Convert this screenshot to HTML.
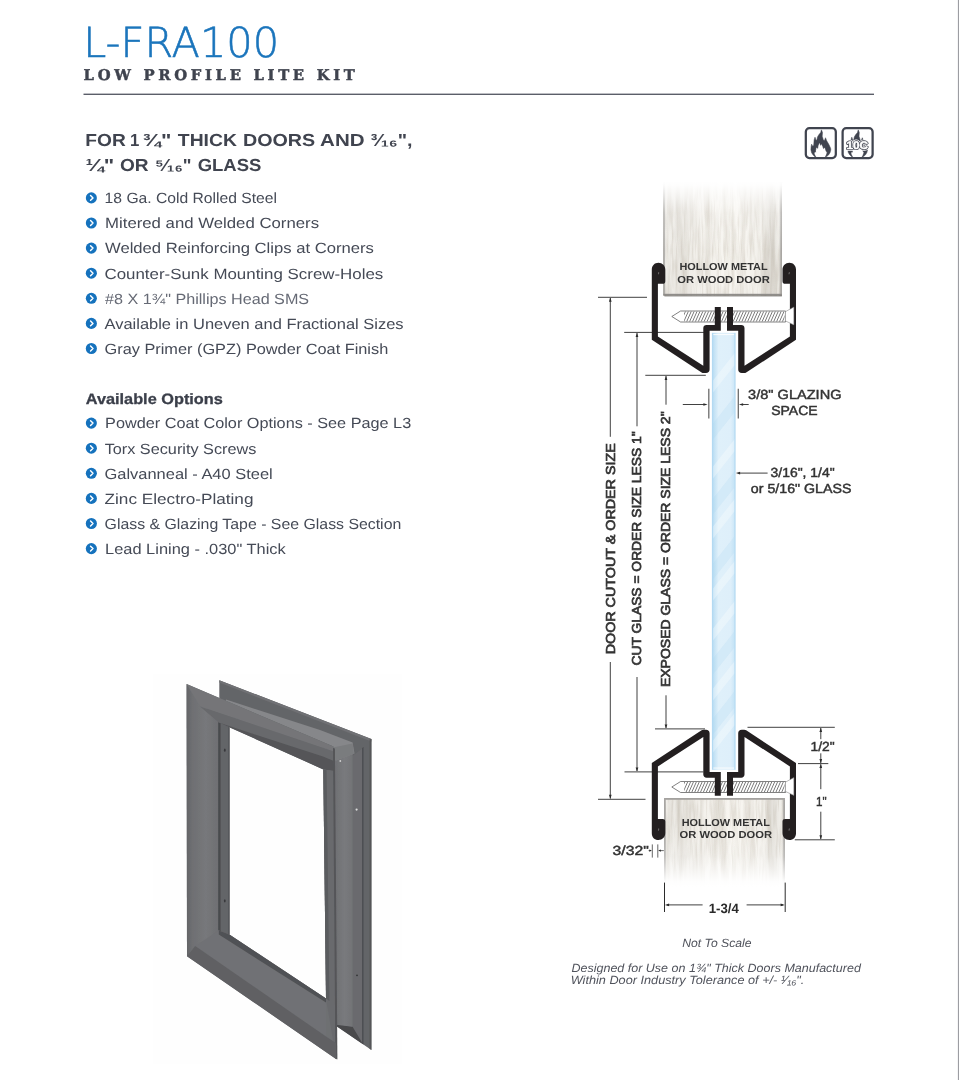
<!DOCTYPE html>
<html lang="en">
<head>
<meta charset="utf-8">
<title>L-FRA100 Low Profile Lite Kit</title>
<style>
html,body{margin:0;padding:0;background:#fff;}
body{width:959px;height:1080px;overflow:hidden;position:relative;font-family:'Liberation Sans', 'DejaVu Sans', sans-serif;}
svg{position:absolute;left:0;top:0;display:block;}
text{white-space:pre;}
</style>
</head>
<body>
<svg width="959" height="1080" viewBox="0 0 959 1080" text-rendering="geometricPrecision">

<defs>
<filter id="wood" x="0" y="0" width="100%" height="100%" color-interpolation-filters="sRGB">
  <feTurbulence type="fractalNoise" baseFrequency="0.17 0.009" numOctaves="2" seed="11" result="n"/>
  <feColorMatrix in="n" type="matrix" values="0 0 0 0 0  0 0 0 0 0  0 0 0 0 0  1.2 0 0 0 -0.5" result="a"/>
  <feFlood flood-color="#c2bbae"/>
  <feComposite in2="a" operator="in" result="streak"/>
  <feTurbulence type="fractalNoise" baseFrequency="0.5 0.035" numOctaves="2" seed="4" result="n2"/>
  <feColorMatrix in="n2" type="matrix" values="0 0 0 0 0  0 0 0 0 0  0 0 0 0 0  0 1.1 0 0 -0.48" result="a2"/>
  <feFlood flood-color="#cbc4b8"/>
  <feComposite in2="a2" operator="in" result="grain"/>
  <feFlood flood-color="#f8f6f1" result="base"/>
  <feMerge><feMergeNode in="base"/><feMergeNode in="streak"/><feMergeNode in="grain"/></feMerge>
</filter>
<linearGradient id="fadeTop" x1="0" y1="0" x2="0" y2="1">
  <stop offset="0" stop-color="#fff" stop-opacity="1"/>
  <stop offset="0.06" stop-color="#fff" stop-opacity="0.95"/>
  <stop offset="0.45" stop-color="#fff" stop-opacity="0.25"/>
  <stop offset="1" stop-color="#fff" stop-opacity="0"/>
</linearGradient>
<linearGradient id="fadeBot" x1="0" y1="1" x2="0" y2="0">
  <stop offset="0" stop-color="#fff" stop-opacity="1"/>
  <stop offset="0.1" stop-color="#fff" stop-opacity="0.95"/>
  <stop offset="0.55" stop-color="#fff" stop-opacity="0.25"/>
  <stop offset="1" stop-color="#fff" stop-opacity="0"/>
</linearGradient>
<linearGradient id="glassG" x1="0" y1="0" x2="1" y2="0">
  <stop offset="0" stop-color="#aed7f1"/>
  <stop offset="0.1" stop-color="#c3e2f5"/>
  <stop offset="0.28" stop-color="#dff0fa"/>
  <stop offset="0.8" stop-color="#deeffa"/>
  <stop offset="0.93" stop-color="#cfe8f8"/>
  <stop offset="1" stop-color="#a3d1ee"/>
</linearGradient>
<pattern id="hatch" width="2.9" height="12" patternUnits="userSpaceOnUse" patternTransform="skewX(-24)">
  <rect x="0" y="0" width="0.9" height="12" fill="#6c6c6c"/>
</pattern>
<linearGradient id="doorShade" x1="0" y1="0" x2="1" y2="0">
  <stop offset="0" stop-color="#8d8b88" stop-opacity="0.85"/>
  <stop offset="0.02" stop-color="#8d8b88" stop-opacity="0.05"/>
  <stop offset="0.12" stop-color="#9b958c" stop-opacity="0.16"/>
  <stop offset="0.3" stop-color="#9b958c" stop-opacity="0.06"/>
  <stop offset="0.6" stop-color="#9b958c" stop-opacity="0"/>
  <stop offset="0.82" stop-color="#9b958c" stop-opacity="0.06"/>
  <stop offset="0.9" stop-color="#9b958c" stop-opacity="0.22"/>
  <stop offset="0.975" stop-color="#8d8b88" stop-opacity="0.05"/>
  <stop offset="1" stop-color="#8d8b88" stop-opacity="0.85"/>
</linearGradient>
<filter id="soft" x="-5%" y="-5%" width="110%" height="110%"><feGaussianBlur stdDeviation="0.45"/></filter>
</defs>

<rect x="0" y="0" width="959" height="1080" fill="#ffffff"/>
<rect x="957.9" y="0" width="1.1" height="1080" fill="#9c9da2"/>
<g opacity="0.999">
<g id="left-text">
<text x="83.21" y="56.80" textLength="195.84" lengthAdjust="spacingAndGlyphs" font-family="'DejaVu Sans Light', 'DejaVu Sans', 'Liberation Sans', sans-serif" font-size="41.4" font-weight="200" font-style="normal" fill="#1b75bc" stroke="#1b75bc" stroke-width="0.55">L-FRA100</text>
<text x="83.60" y="79.60" textLength="271.20" lengthAdjust="spacing" font-family="'DejaVu Serif', 'Liberation Serif', serif" font-size="14.8" font-weight="bold" font-style="normal" fill="#3f434e" stroke="#3f434e" stroke-width="0.45">LOW PROFILE LITE KIT</text>
<rect x="83.5" y="93.6" width="790.5" height="1.4" fill="#5b5e69"/>
<text y="145.80" font-family="'Liberation Sans', 'DejaVu Sans', sans-serif" font-size="17.4" font-weight="bold" fill="#40444f"><tspan x="85.29" textLength="40.51" lengthAdjust="spacingAndGlyphs">FOR</tspan> <tspan x="129.94" textLength="9.32" lengthAdjust="spacingAndGlyphs">1</tspan> <tspan x="142.59" textLength="28.74" lengthAdjust="spacingAndGlyphs">¾&quot;</tspan> <tspan x="177.89" textLength="58.98" lengthAdjust="spacingAndGlyphs">THICK</tspan> <tspan x="242.95" textLength="72.23" lengthAdjust="spacingAndGlyphs">DOORS</tspan> <tspan x="320.13" textLength="44.46" lengthAdjust="spacingAndGlyphs">AND</tspan> <tspan x="370.86" textLength="41.62" lengthAdjust="spacingAndGlyphs">³⁄₁₆&quot;,</tspan></text>
<text y="171.00" font-family="'Liberation Sans', 'DejaVu Sans', sans-serif" font-size="17.4" font-weight="bold" fill="#40444f"><tspan x="85.51" textLength="28.82" lengthAdjust="spacingAndGlyphs">¼&quot;</tspan> <tspan x="119.93" textLength="28.66" lengthAdjust="spacingAndGlyphs">OR</tspan> <tspan x="155.14" textLength="36.47" lengthAdjust="spacingAndGlyphs">⁵⁄₁₆&quot;</tspan> <tspan x="197.66" textLength="63.79" lengthAdjust="spacingAndGlyphs">GLASS</tspan></text>
<circle cx="91.35" cy="197.90" r="5.55" fill="#1572bd"/><path d="M90.55 195.45 L93.0 197.90 L90.55 200.35" fill="none" stroke="#fff" stroke-width="1.45" stroke-linecap="round" stroke-linejoin="round"/>
<text x="104.64" y="203.20" textLength="172.41" lengthAdjust="spacingAndGlyphs" font-family="'Liberation Sans', 'DejaVu Sans', sans-serif" font-size="14.8" font-weight="normal" font-style="normal" fill="#454a56" >18 Ga. Cold Rolled Steel</text>
<circle cx="91.35" cy="223.00" r="5.55" fill="#1572bd"/><path d="M90.55 220.55 L93.0 223.00 L90.55 225.45" fill="none" stroke="#fff" stroke-width="1.45" stroke-linecap="round" stroke-linejoin="round"/>
<text x="105.04" y="228.30" textLength="214.03" lengthAdjust="spacingAndGlyphs" font-family="'Liberation Sans', 'DejaVu Sans', sans-serif" font-size="14.8" font-weight="normal" font-style="normal" fill="#454a56" >Mitered and Welded Corners</text>
<circle cx="91.35" cy="248.10" r="5.55" fill="#1572bd"/><path d="M90.55 245.65 L93.0 248.10 L90.55 250.55" fill="none" stroke="#fff" stroke-width="1.45" stroke-linecap="round" stroke-linejoin="round"/>
<text x="105.00" y="253.40" textLength="268.86" lengthAdjust="spacingAndGlyphs" font-family="'Liberation Sans', 'DejaVu Sans', sans-serif" font-size="14.8" font-weight="normal" font-style="normal" fill="#454a56" >Welded Reinforcing Clips at Corners</text>
<circle cx="91.35" cy="273.20" r="5.55" fill="#1572bd"/><path d="M90.55 270.75 L93.0 273.20 L90.55 275.65" fill="none" stroke="#fff" stroke-width="1.45" stroke-linecap="round" stroke-linejoin="round"/>
<text x="104.50" y="278.50" textLength="278.77" lengthAdjust="spacingAndGlyphs" font-family="'Liberation Sans', 'DejaVu Sans', sans-serif" font-size="14.8" font-weight="normal" font-style="normal" fill="#454a56" >Counter-Sunk Mounting Screw-Holes</text>
<circle cx="91.35" cy="298.30" r="5.55" fill="#1572bd"/><path d="M90.55 295.85 L93.0 298.30 L90.55 300.75" fill="none" stroke="#fff" stroke-width="1.45" stroke-linecap="round" stroke-linejoin="round"/>
<text x="105.00" y="303.60" textLength="204.13" lengthAdjust="spacingAndGlyphs" font-family="'Liberation Sans', 'DejaVu Sans', sans-serif" font-size="14.8" font-weight="normal" font-style="normal" fill="#666a75" >#8 X 1¾&quot; Phillips Head SMS</text>
<circle cx="91.35" cy="323.40" r="5.55" fill="#1572bd"/><path d="M90.55 320.95 L93.0 323.40 L90.55 325.85" fill="none" stroke="#fff" stroke-width="1.45" stroke-linecap="round" stroke-linejoin="round"/>
<text x="104.50" y="328.70" textLength="299.06" lengthAdjust="spacingAndGlyphs" font-family="'Liberation Sans', 'DejaVu Sans', sans-serif" font-size="14.8" font-weight="normal" font-style="normal" fill="#454a56" >Available in Uneven and Fractional Sizes</text>
<circle cx="91.35" cy="348.50" r="5.55" fill="#1572bd"/><path d="M90.55 346.05 L93.0 348.50 L90.55 350.95" fill="none" stroke="#fff" stroke-width="1.45" stroke-linecap="round" stroke-linejoin="round"/>
<text x="104.53" y="353.80" textLength="283.70" lengthAdjust="spacingAndGlyphs" font-family="'Liberation Sans', 'DejaVu Sans', sans-serif" font-size="14.8" font-weight="normal" font-style="normal" fill="#454a56" >Gray Primer (GPZ) Powder Coat Finish</text>
<text x="85.72" y="404.00" textLength="137.12" lengthAdjust="spacingAndGlyphs" font-family="'Liberation Sans', 'DejaVu Sans', sans-serif" font-size="15.0" font-weight="bold" font-style="normal" fill="#3b3f4a" stroke="#3b3f4a" stroke-width="0.3">Available Options</text>
<circle cx="91.35" cy="423.10" r="5.55" fill="#1572bd"/><path d="M90.55 420.65 L93.0 423.10 L90.55 425.55" fill="none" stroke="#fff" stroke-width="1.45" stroke-linecap="round" stroke-linejoin="round"/>
<text x="105.08" y="428.40" textLength="306.11" lengthAdjust="spacingAndGlyphs" font-family="'Liberation Sans', 'DejaVu Sans', sans-serif" font-size="14.8" font-weight="normal" font-style="normal" fill="#454a56" >Powder Coat Color Options - See Page L3</text>
<circle cx="91.35" cy="448.20" r="5.55" fill="#1572bd"/><path d="M90.55 445.75 L93.0 448.20 L90.55 450.65" fill="none" stroke="#fff" stroke-width="1.45" stroke-linecap="round" stroke-linejoin="round"/>
<text x="104.67" y="453.50" textLength="151.68" lengthAdjust="spacingAndGlyphs" font-family="'Liberation Sans', 'DejaVu Sans', sans-serif" font-size="14.8" font-weight="normal" font-style="normal" fill="#454a56" >Torx Security Screws</text>
<circle cx="91.35" cy="473.30" r="5.55" fill="#1572bd"/><path d="M90.55 470.85 L93.0 473.30 L90.55 475.75" fill="none" stroke="#fff" stroke-width="1.45" stroke-linecap="round" stroke-linejoin="round"/>
<text x="104.53" y="478.60" textLength="168.17" lengthAdjust="spacingAndGlyphs" font-family="'Liberation Sans', 'DejaVu Sans', sans-serif" font-size="14.8" font-weight="normal" font-style="normal" fill="#454a56" >Galvanneal - A40 Steel</text>
<circle cx="91.35" cy="498.40" r="5.55" fill="#1572bd"/><path d="M90.55 495.95 L93.0 498.40 L90.55 500.85" fill="none" stroke="#fff" stroke-width="1.45" stroke-linecap="round" stroke-linejoin="round"/>
<text x="104.54" y="503.70" textLength="148.95" lengthAdjust="spacingAndGlyphs" font-family="'Liberation Sans', 'DejaVu Sans', sans-serif" font-size="14.8" font-weight="normal" font-style="normal" fill="#454a56" >Zinc Electro-Plating</text>
<circle cx="91.35" cy="523.50" r="5.55" fill="#1572bd"/><path d="M90.55 521.05 L93.0 523.50 L90.55 525.95" fill="none" stroke="#fff" stroke-width="1.45" stroke-linecap="round" stroke-linejoin="round"/>
<text x="104.55" y="528.80" textLength="296.75" lengthAdjust="spacingAndGlyphs" font-family="'Liberation Sans', 'DejaVu Sans', sans-serif" font-size="14.8" font-weight="normal" font-style="normal" fill="#454a56" >Glass &amp; Glazing Tape - See Glass Section</text>
<circle cx="91.35" cy="548.60" r="5.55" fill="#1572bd"/><path d="M90.55 546.15 L93.0 548.60 L90.55 551.05" fill="none" stroke="#fff" stroke-width="1.45" stroke-linecap="round" stroke-linejoin="round"/>
<text x="105.07" y="553.90" textLength="180.62" lengthAdjust="spacingAndGlyphs" font-family="'Liberation Sans', 'DejaVu Sans', sans-serif" font-size="14.8" font-weight="normal" font-style="normal" fill="#454a56" >Lead Lining - .030&quot; Thick</text>
</g>
<g id="icons">
<rect x="805.8000000000001" y="128.16" width="30.0" height="29.9" rx="3.6" ry="3.6" fill="#fff"/>
<path transform="translate(804.7 127.06)" d="M16.7 2.8 L17.8 5.4 L17.5 9.2 L18.6 12.6 L19.7 13.7 L20.8 10.7 L22.0 13.7 L24.2 17.5 L25.9 21.2 L26.1 22.8 L25.3 25.7 L23.8 28.0 L21.6 29.8 L20.6 30.4 L11.0 30.4 L10.2 29.6 L8.4 28.0 L6.9 25.7 L6.2 22.6 L6.4 19.7 L6.9 17.1 L8.1 19.3 L9.0 18.2 L9.2 16.0 L9.4 13.0 L10.3 10.1 L11.4 13.3 L12.2 13.0 L12.8 9.9 L14.1 7.7 L16.0 5.4 Z" fill="#40444f" stroke="#40444f" stroke-width="0.5" stroke-linejoin="round"/><path transform="translate(804.7 127.06)" d="M14.8 16.3 L15.6 19.0 L16.7 17.5 L17.8 19.7 L18.6 22.3 L19.9 20.8 L20.8 23.8 L22.0 25.5 L21.2 28.0 L19.9 30.4 L12.0 30.4 L11.1 29.1 L9.9 26.8 L10.3 25.0 L11.4 25.7 L11.3 23.5 L11.8 20.8 L13.3 22.0 L13.7 19.0 Z" fill="#fff" stroke="#fff" stroke-width="0.3" stroke-linejoin="round"/>
<rect x="805.82" y="128.18" width="30.0" height="29.9" rx="3.6" ry="3.6" fill="none" stroke="#40444f" stroke-width="2.25"/>
<rect x="842.6" y="128.16" width="30.0" height="29.9" rx="3.6" ry="3.6" fill="#fff"/>
<path transform="translate(841.5 127.06)" d="M16.7 2.8 L17.8 5.4 L17.5 9.2 L18.6 12.6 L19.7 13.7 L20.8 10.7 L22.0 13.7 L24.2 17.5 L25.9 21.2 L26.1 22.8 L25.3 25.7 L23.8 28.0 L21.6 29.8 L20.6 30.4 L11.0 30.4 L10.2 29.6 L8.4 28.0 L6.9 25.7 L6.2 22.6 L6.4 19.7 L6.9 17.1 L8.1 19.3 L9.0 18.2 L9.2 16.0 L9.4 13.0 L10.3 10.1 L11.4 13.3 L12.2 13.0 L12.8 9.9 L14.1 7.7 L16.0 5.4 Z" fill="#40444f" stroke="#40444f" stroke-width="0.5" stroke-linejoin="round"/><path transform="translate(841.5 127.06)" d="M14.8 16.3 L15.6 19.0 L16.7 17.5 L17.8 19.7 L18.6 22.3 L19.9 20.8 L20.8 23.8 L22.0 25.5 L21.2 28.0 L19.9 30.4 L12.0 30.4 L11.1 29.1 L9.9 26.8 L10.3 25.0 L11.4 25.7 L11.3 23.5 L11.8 20.8 L13.3 22.0 L13.7 19.0 Z" fill="#fff" stroke="#fff" stroke-width="0.3" stroke-linejoin="round"/>
<rect x="842.62" y="128.18" width="30.0" height="29.9" rx="3.6" ry="3.6" fill="none" stroke="#40444f" stroke-width="2.25"/>
<g>
<text x="846.56" y="148.70" textLength="21.50" lengthAdjust="spacingAndGlyphs" font-family="'Liberation Sans', 'DejaVu Sans', sans-serif" font-size="11" font-weight="bold" font-style="normal" fill="#fff" stroke="#fff" stroke-width="3.4" stroke-linejoin="round">10C</text>
<text x="846.56" y="148.70" textLength="21.50" lengthAdjust="spacingAndGlyphs" font-family="'Liberation Sans', 'DejaVu Sans', sans-serif" font-size="11" font-weight="bold" font-style="normal" fill="#40444f" stroke="#40444f" stroke-width="2.0" stroke-linejoin="round">10C</text>
<text x="846.56" y="148.70" textLength="21.50" lengthAdjust="spacingAndGlyphs" font-family="'Liberation Sans', 'DejaVu Sans', sans-serif" font-size="11" font-weight="bold" font-style="normal" fill="#fff" stroke="#fff" stroke-width="0.5" stroke-linejoin="round">10C</text>
</g>
</g>
<g id="photo">
<rect x="153" y="674" width="249" height="390" fill="#fefefe"/>
<defs>
<linearGradient id="pLeft" gradientUnits="userSpaceOnUse" x1="186" y1="0" x2="219" y2="0">
 <stop offset="0" stop-color="#626366"/><stop offset="0.18" stop-color="#6e6f72"/><stop offset="0.6" stop-color="#77787b"/><stop offset="1" stop-color="#6e6f72"/>
</linearGradient>
<linearGradient id="pSide" gradientUnits="userSpaceOnUse" x1="336" y1="0" x2="353" y2="0">
 <stop offset="0" stop-color="#707174"/><stop offset="0.5" stop-color="#797a7d"/><stop offset="1" stop-color="#727376"/>
</linearGradient>
</defs>
<g filter="url(#soft)">
<polygon points="219.3,680.2 371.4,738.9 371.4,1050.0 337.0,1026.5 337.0,752.0 219.3,700.0" fill="#646568" />
<polygon points="219.3,680.2 371.4,738.9 371.4,741.5 219.3,682.6" fill="#707174" />
<polygon points="369.6,739.5 371.4,738.9 371.4,1050.0 369.6,1048.8" fill="#545558" />
<polygon points="352.6,756.0 363.0,748.0 363.0,1044.2 352.6,1027.5" fill="#6a6b6e" />
<polygon points="362.0,748.0 363.6,747.0 363.6,1044.6 362.0,1043.6" fill="#4e4f52" />
<polygon points="337.0,1024.0 352.6,1026.7 363.0,1044.2 337.0,1026.6" fill="#48494c" />
<polygon points="332.0,760.0 352.6,753.5 352.6,1026.7 334.0,1024.4" fill="url(#pSide)"/>
<polygon points="226.0,699.5 320.0,730.0 352.6,742.5 354.5,753.5 336.0,760.5 333.3,746.6 226.0,701.0" fill="#86878a" />
<polygon points="333.0,747.4 352.6,743.5 354.0,753.8 333.0,761.6" fill="#7a7b7e" />
<path fill-rule="evenodd" fill="#6e6f72" d="M186.6 684.0 L333.3 746.6 L336.4 1059.2 L187.0 956.3 Z M229.3 727.2 L323.3 769.4 L326.0 998.6 L229.3 934.4 Z"/>
<polygon points="186.6,684.0 218.8,722.6 218.8,930.4 187.0,956.3" fill="url(#pLeft)"/>
<polygon points="218.8,722.6 229.3,727.2 229.3,934.4 218.8,930.4" fill="#646568" />
<polygon points="218.2,722.0 220.6,723.2 220.6,931.2 218.2,930.0" fill="#4a4b4e" />
<polygon points="228.2,727.0 229.6,727.4 229.6,934.6 228.2,933.8" fill="#545558" />
<polygon points="186.6,684.0 333.3,746.6 333.6,751.5 200.0,706.5" fill="#747578" />
<polygon points="200.0,706.5 333.6,751.5 334.0,762.0 218.8,722.6" fill="#68696c" />
<polygon points="218.8,722.6 323.0,756.6 333.8,761.0 334.0,771.0 323.3,769.4 229.3,727.2" fill="#545558" />
<polygon points="323.3,769.4 334.0,771.0 336.4,1059.2 326.0,998.6" fill="#696a6d" />
<polygon points="323.3,769.4 326.6,770.2 329.4,1001.0 326.0,998.6" fill="#5a5b5e" />
<polygon points="333.0,748.0 334.9,748.6 337.4,1059.4 335.4,1058.4" fill="#545558" />
<polygon points="218.8,930.4 229.3,934.4 326.0,998.6 326.0,1036.6 195.2,945.9" fill="#707174" />
<polygon points="187.0,956.3 195.2,945.9 326.0,1036.6 336.0,1043.0 336.4,1059.2" fill="#606164" />
<polygon points="218.8,930.4 229.3,934.4 326.0,998.6 326.0,1002.6 218.8,934.6" fill="#505154" />
<ellipse cx="224.8" cy="750.2" rx="0.9" ry="1.6" fill="#38393c"/>
<ellipse cx="224.8" cy="900.8" rx="0.9" ry="1.6" fill="#38393c"/>
<circle cx="356.6" cy="809.6" r="1.1" fill="#dcdcdc"/>
<circle cx="340.3" cy="761.0" r="0.9" fill="#cfcfcf"/>
<circle cx="357.0" cy="975.3" r="0.9" fill="#323336"/>
</g>
</g>
<g id="diagram">
<line x1="598.0" y1="297.3" x2="647.0" y2="297.3" stroke="#2b2b2b" stroke-width="0.9"/>
<line x1="624.2" y1="332.4" x2="704.0" y2="332.4" stroke="#2b2b2b" stroke-width="0.9"/>
<line x1="645.3" y1="375.3" x2="705.8" y2="375.3" stroke="#2b2b2b" stroke-width="0.9"/>
<line x1="655.0" y1="728.9" x2="705.0" y2="728.9" stroke="#2b2b2b" stroke-width="0.9"/>
<line x1="624.5" y1="771.9" x2="703.5" y2="771.9" stroke="#2b2b2b" stroke-width="0.9"/>
<line x1="598.0" y1="799.3" x2="645.5" y2="799.3" stroke="#2b2b2b" stroke-width="0.9"/>
<line x1="610.3" y1="298" x2="610.3" y2="436.8" stroke="#2b2b2b" stroke-width="0.9"/>
<polygon points="610.30,297.60 608.95,301.80 611.65,301.80" fill="#2b2b2b"/>
<line x1="610.3" y1="662" x2="610.3" y2="798.5" stroke="#2b2b2b" stroke-width="0.9"/>
<polygon points="610.30,799.00 608.95,794.80 611.65,794.80" fill="#2b2b2b"/>
<line x1="637.0" y1="333" x2="637.0" y2="426.3" stroke="#2b2b2b" stroke-width="0.9"/>
<polygon points="637.00,332.80 635.65,337.00 638.35,337.00" fill="#2b2b2b"/>
<line x1="637.0" y1="677" x2="637.0" y2="771.0" stroke="#2b2b2b" stroke-width="0.9"/>
<polygon points="637.00,771.60 635.65,767.40 638.35,767.40" fill="#2b2b2b"/>
<line x1="666.0" y1="376" x2="666.0" y2="404.7" stroke="#2b2b2b" stroke-width="0.9"/>
<polygon points="666.00,375.70 664.65,379.90 667.35,379.90" fill="#2b2b2b"/>
<line x1="666.0" y1="695.3" x2="666.0" y2="728.0" stroke="#2b2b2b" stroke-width="0.9"/>
<polygon points="666.00,728.60 664.65,724.40 667.35,724.40" fill="#2b2b2b"/>
<g><rect x="663.4" y="182" width="118.5" height="113.39999999999998" filter="url(#wood)"/><rect x="663.4" y="182" width="118.5" height="113.39999999999998" fill="url(#doorShade)"/><rect x="663.4" y="182" width="1.2" height="113.39999999999998" fill="#a9a7a4"/><rect x="780.6999999999999" y="182" width="1.2" height="113.39999999999998" fill="#a9a7a4"/><rect x="663.4" y="293.79999999999995" width="118.5" height="1.6" fill="#8f8d8a"/><rect x="664.4" y="295.4" width="117.5" height="1.0" fill="#55534f" opacity="0.75"/><rect x="662.4" y="181" width="120.5" height="70" fill="url(#fadeTop)"/></g>
<g><rect x="664.0" y="798.0" width="121.0" height="88.0" filter="url(#wood)"/><rect x="664.0" y="798.0" width="121.0" height="88.0" fill="url(#doorShade)"/><rect x="664.0" y="798.0" width="121.0" height="1.8" fill="#a3a19e"/><rect x="664.0" y="798.0" width="1.5" height="88.0" fill="#a8a6a3"/><rect x="783.5" y="798.0" width="1.5" height="88.0" fill="#a8a6a3"/><rect x="663.0" y="831" width="123.0" height="56" fill="url(#fadeBot)"/></g>
<g><rect x="711.9" y="332.8" width="23.600000000000023" height="436.99999999999994" fill="url(#glassG)"/><clipPath id="gclip"><rect x="713.1" y="332.8" width="21.200000000000024" height="436.99999999999994"/></clipPath><g clip-path="url(#gclip)" fill="#ffffff" opacity="0.32"><path d="M711.9 382 L735.5 352 L735.5 364 L711.9 394 Z"/><path d="M711.9 468 L735.5 438 L735.5 450 L711.9 480 Z"/><path d="M711.9 528 L735.5 498 L735.5 510 L711.9 540 Z"/><path d="M711.9 590 L735.5 560 L735.5 572 L711.9 602 Z"/><path d="M711.9 630 L735.5 600 L735.5 612 L711.9 642 Z"/><path d="M711.9 690 L735.5 660 L735.5 672 L711.9 702 Z"/><path d="M711.9 742 L735.5 712 L735.5 724 L711.9 754 Z"/></g><g clip-path="url(#gclip)" fill="#9fd0ee" opacity="0.18"><path d="M711.9 425 L735.5 395 L735.5 411 L711.9 441 Z"/><path d="M711.9 500 L735.5 470 L735.5 486 L711.9 516 Z"/><path d="M711.9 565 L735.5 535 L735.5 551 L711.9 581 Z"/><path d="M711.9 660 L735.5 630 L735.5 646 L711.9 676 Z"/><path d="M711.9 720 L735.5 690 L735.5 706 L711.9 736 Z"/></g><rect x="713.3" y="334.0" width="20.800000000000022" height="1.1" fill="#fff" opacity="0.8"/><rect x="713.3" y="767.5" width="20.800000000000022" height="1.1" fill="#fff" opacity="0.8"/></g>
<g><path d="M671.8 316.5 L680.6 311.0 L785.6 311.0 L785.6 322.0 L680.6 322.0 Z" fill="#fff" stroke="#4a4a4a" stroke-width="0.7" stroke-linejoin="round"/><rect x="684.1" y="311.5" width="100.5" height="10.0" fill="url(#hatch)"/></g>
<g><path d="M671.8 787.0 L680.6 781.5 L785.6 781.5 L785.6 792.5 L680.6 792.5 Z" fill="#fff" stroke="#4a4a4a" stroke-width="0.7" stroke-linejoin="round"/><rect x="684.1" y="782.0" width="100.5" height="10.0" fill="url(#hatch)"/></g>
<g transform=""><path d="M651.8 290 L651.8 269.6 C651.8 265.6 654.6 262.8 658.4 262.8 C662.4 262.8 665.3 265.8 665.3 269.8 L665.3 281.2 C665.3 283.0 664.2 283.8 662.6 283.8 L657.9 283.8 L657.9 336.4 L703.3 365.8 L703.3 328.2 C703.3 326.2 704.6 325.0 706.6 325.0 L714.8 325.0 L714.8 307.1 L720.8 307.1 L720.8 330.8 L709.6 330.8 L709.6 369.6 C709.6 371.8 708.2 373.1 706.0 373.1 L703.6 373.1 C702.8 373.1 702.2 372.9 701.6 372.5 L651.8 339.8 Z" fill="#231f20"/><path d="M651.8 290 L651.8 269.6 C651.8 265.6 654.6 262.8 658.4 262.8 C662.4 262.8 665.3 265.8 665.3 269.8 L665.3 281.2 C665.3 283.0 664.2 283.8 662.6 283.8 L657.9 283.8 L657.9 336.4 L703.3 365.8 L703.3 328.2 C703.3 326.2 704.6 325.0 706.6 325.0 L714.8 325.0 L714.8 307.1 L720.8 307.1 L720.8 330.8 L709.6 330.8 L709.6 369.6 C709.6 371.8 708.2 373.1 706.0 373.1 L703.6 373.1 C702.8 373.1 702.2 372.9 701.6 372.5 L651.8 339.8 Z" fill="#231f20" transform="translate(1447.8 0) scale(-1 1)"/></g>
<g transform="translate(0 1102.8) scale(1 -1)"><path d="M651.8 290 L651.8 269.6 C651.8 265.6 654.6 262.8 658.4 262.8 C662.4 262.8 665.3 265.8 665.3 269.8 L665.3 281.2 C665.3 283.0 664.2 283.8 662.6 283.8 L657.9 283.8 L657.9 336.4 L703.3 365.8 L703.3 328.2 C703.3 326.2 704.6 325.0 706.6 325.0 L714.8 325.0 L714.8 307.1 L720.8 307.1 L720.8 330.8 L709.6 330.8 L709.6 369.6 C709.6 371.8 708.2 373.1 706.0 373.1 L703.6 373.1 C702.8 373.1 702.2 372.9 701.6 372.5 L651.8 339.8 Z" fill="#231f20"/><path d="M651.8 290 L651.8 269.6 C651.8 265.6 654.6 262.8 658.4 262.8 C662.4 262.8 665.3 265.8 665.3 269.8 L665.3 281.2 C665.3 283.0 664.2 283.8 662.6 283.8 L657.9 283.8 L657.9 336.4 L703.3 365.8 L703.3 328.2 C703.3 326.2 704.6 325.0 706.6 325.0 L714.8 325.0 L714.8 307.1 L720.8 307.1 L720.8 330.8 L709.6 330.8 L709.6 369.6 C709.6 371.8 708.2 373.1 706.0 373.1 L703.6 373.1 C702.8 373.1 702.2 372.9 701.6 372.5 L651.8 339.8 Z" fill="#231f20" transform="translate(1447.8 0) scale(-1 1)"/></g>
<ellipse cx="658.6" cy="273.2" rx="0.6" ry="1.3" fill="#6a6768" transform="rotate(12 658.6 273.2)"/>
<ellipse cx="789.2" cy="273.2" rx="0.6" ry="1.3" fill="#6a6768" transform="rotate(12 789.2 273.2)"/>
<ellipse cx="658.6" cy="829.6" rx="0.6" ry="1.3" fill="#6a6768" transform="rotate(12 658.6 829.6)"/>
<ellipse cx="789.2" cy="829.6" rx="0.6" ry="1.3" fill="#6a6768" transform="rotate(12 789.2 829.6)"/>
<path d="M785.4 311.7 L793.9 307.0 L793.9 324.90000000000003 L785.4 320.90000000000003 Z" fill="#fff" stroke="#777" stroke-width="0.5" stroke-linejoin="round"/>
<path d="M785.4 782.1999999999999 L793.9 777.5 L793.9 795.4 L785.4 791.4 Z" fill="#fff" stroke="#777" stroke-width="0.5" stroke-linejoin="round"/>
<text x="679.46" y="270.40" textLength="88.19" lengthAdjust="spacingAndGlyphs" font-family="'Liberation Sans', 'DejaVu Sans', sans-serif" font-size="10.2" font-weight="bold" font-style="normal" fill="#333" >HOLLOW METAL</text>
<text x="677.36" y="282.50" textLength="92.42" lengthAdjust="spacingAndGlyphs" font-family="'Liberation Sans', 'DejaVu Sans', sans-serif" font-size="10.2" font-weight="bold" font-style="normal" fill="#333" >OR WOOD DOOR</text>
<text x="681.66" y="826.00" textLength="88.19" lengthAdjust="spacingAndGlyphs" font-family="'Liberation Sans', 'DejaVu Sans', sans-serif" font-size="10.2" font-weight="bold" font-style="normal" fill="#333" >HOLLOW METAL</text>
<text x="679.56" y="837.90" textLength="92.42" lengthAdjust="spacingAndGlyphs" font-family="'Liberation Sans', 'DejaVu Sans', sans-serif" font-size="10.2" font-weight="bold" font-style="normal" fill="#333" >OR WOOD DOOR</text>
<g transform="translate(614.69 653.60) rotate(-90)"><text x="-0.75" y="0.00" textLength="211.12" lengthAdjust="spacingAndGlyphs" font-family="'Liberation Sans', 'DejaVu Sans', sans-serif" font-size="13.0" font-weight="normal" font-style="normal" fill="#333333" stroke="#333333" stroke-width="0.7">DOOR CUTOUT &amp; ORDER SIZE</text></g>
<g transform="translate(641.38 665.30) rotate(-90)"><text x="-0.29" y="0.00" textLength="234.19" lengthAdjust="spacingAndGlyphs" font-family="'Liberation Sans', 'DejaVu Sans', sans-serif" font-size="13.0" font-weight="normal" font-style="normal" fill="#333333" stroke="#333333" stroke-width="0.7">CUT GLASS = ORDER SIZE LESS 1&quot;</text></g>
<g transform="translate(669.78 686.30) rotate(-90)"><text x="-0.72" y="0.00" textLength="275.63" lengthAdjust="spacingAndGlyphs" font-family="'Liberation Sans', 'DejaVu Sans', sans-serif" font-size="13.0" font-weight="normal" font-style="normal" fill="#333333" stroke="#333333" stroke-width="0.7">EXPOSED GLASS = ORDER SIZE LESS 2&quot;</text></g>
<line x1="708.8" y1="388.7" x2="708.8" y2="418.4" stroke="#6b6b6b" stroke-width="1.3"/>
<line x1="738.3" y1="388.7" x2="738.3" y2="418.4" stroke="#6b6b6b" stroke-width="1.3"/>
<line x1="682.8" y1="404.5" x2="705" y2="404.5" stroke="#2b2b2b" stroke-width="0.9"/>
<polygon points="707.60,404.50 703.40,403.15 703.40,405.85" fill="#2b2b2b"/>
<line x1="741.5" y1="404.5" x2="748.7" y2="404.5" stroke="#2b2b2b" stroke-width="0.9"/>
<polygon points="738.90,404.50 743.10,403.15 743.10,405.85" fill="#2b2b2b"/>
<line x1="739" y1="473.1" x2="767.6" y2="473.1" stroke="#2b2b2b" stroke-width="0.9"/>
<polygon points="735.90,473.10 740.10,471.75 740.10,474.45" fill="#2b2b2b"/>
<text x="748.07" y="399.30" textLength="93.48" lengthAdjust="spacingAndGlyphs" font-family="'Liberation Sans', 'DejaVu Sans', sans-serif" font-size="13.2" font-weight="normal" font-style="normal" fill="#333333" stroke="#333333" stroke-width="0.45">3/8&quot; GLAZING</text>
<text x="771.18" y="414.60" textLength="46.53" lengthAdjust="spacingAndGlyphs" font-family="'Liberation Sans', 'DejaVu Sans', sans-serif" font-size="13.2" font-weight="normal" font-style="normal" fill="#333333" stroke="#333333" stroke-width="0.45">SPACE</text>
<text x="770.59" y="477.40" textLength="64.10" lengthAdjust="spacingAndGlyphs" font-family="'Liberation Sans', 'DejaVu Sans', sans-serif" font-size="13.2" font-weight="normal" font-style="normal" fill="#333333" stroke="#333333" stroke-width="0.45">3/16&quot;, 1/4&quot;</text>
<text x="750.88" y="493.30" textLength="100.55" lengthAdjust="spacingAndGlyphs" font-family="'Liberation Sans', 'DejaVu Sans', sans-serif" font-size="13.2" font-weight="normal" font-style="normal" fill="#333333" stroke="#333333" stroke-width="0.45">or 5/16&quot; GLASS</text>
<line x1="747.5" y1="727.3" x2="834.8" y2="727.3" stroke="#2b2b2b" stroke-width="0.9"/>
<line x1="798.0" y1="763.6" x2="828.3" y2="763.6" stroke="#2b2b2b" stroke-width="0.9"/>
<line x1="794.8" y1="839.8" x2="834.8" y2="839.8" stroke="#2b2b2b" stroke-width="0.9"/>
<line x1="820.8" y1="728" x2="820.8" y2="739.2" stroke="#2b2b2b" stroke-width="0.9"/>
<polygon points="820.80,727.70 819.45,731.90 822.15,731.90" fill="#2b2b2b"/>
<line x1="820.8" y1="753.3" x2="820.8" y2="763" stroke="#2b2b2b" stroke-width="0.9"/>
<polygon points="820.80,763.30 819.45,759.10 822.15,759.10" fill="#2b2b2b"/>
<line x1="820.8" y1="764.2" x2="820.8" y2="789.2" stroke="#2b2b2b" stroke-width="0.9"/>
<polygon points="820.80,763.90 819.45,768.10 822.15,768.10" fill="#2b2b2b"/>
<line x1="820.8" y1="811.7" x2="820.8" y2="839" stroke="#2b2b2b" stroke-width="0.9"/>
<polygon points="820.80,839.50 819.45,835.30 822.15,835.30" fill="#2b2b2b"/>
<text x="810.47" y="750.60" textLength="24.12" lengthAdjust="spacingAndGlyphs" font-family="'Liberation Sans', 'DejaVu Sans', sans-serif" font-size="13.2" font-weight="normal" font-style="normal" fill="#333333" stroke="#333333" stroke-width="0.45">1/2&quot;</text>
<text x="816.04" y="805.90" textLength="10.57" lengthAdjust="spacingAndGlyphs" font-family="'Liberation Sans', 'DejaVu Sans', sans-serif" font-size="13.2" font-weight="normal" font-style="normal" fill="#333333" stroke="#333333" stroke-width="0.45">1&quot;</text>
<text x="612.52" y="855.00" textLength="36.24" lengthAdjust="spacingAndGlyphs" font-family="'Liberation Sans', 'DejaVu Sans', sans-serif" font-size="13.2" font-weight="normal" font-style="normal" fill="#333333" stroke="#333333" stroke-width="0.45">3/32&quot;</text>
<line x1="652.3" y1="844.4" x2="652.3" y2="857.6" stroke="#555" stroke-width="0.9"/>
<line x1="657.8" y1="844.4" x2="657.8" y2="857.6" stroke="#555" stroke-width="0.9"/>
<line x1="648.6" y1="850.6" x2="650.5" y2="850.6" stroke="#2b2b2b" stroke-width="0.7"/>
<polygon points="651.90,850.60 649.30,849.50 649.30,851.70" fill="#2b2b2b"/>
<line x1="660.0" y1="850.6" x2="663.8" y2="850.6" stroke="#2b2b2b" stroke-width="0.7"/>
<polygon points="658.20,850.60 660.80,849.50 660.80,851.70" fill="#2b2b2b"/>
<line x1="664.5" y1="882.6" x2="664.5" y2="912.0" stroke="#2b2b2b" stroke-width="1.0"/>
<line x1="785.2" y1="882.6" x2="785.2" y2="912.0" stroke="#2b2b2b" stroke-width="1.0"/>
<line x1="667" y1="904.9" x2="702.6" y2="904.9" stroke="#2b2b2b" stroke-width="0.9"/>
<polygon points="664.90,904.90 669.10,903.55 669.10,906.25" fill="#2b2b2b"/>
<line x1="746.6" y1="904.9" x2="783" y2="904.9" stroke="#2b2b2b" stroke-width="0.9"/>
<polygon points="784.80,904.90 780.60,903.55 780.60,906.25" fill="#2b2b2b"/>
<text x="708.72" y="912.50" textLength="30.14" lengthAdjust="spacingAndGlyphs" font-family="'Liberation Sans', 'DejaVu Sans', sans-serif" font-size="13.6" font-weight="bold" font-style="normal" fill="#2a2a2a" >1-3/4</text>
<text x="682.19" y="947.20" textLength="69.44" lengthAdjust="spacingAndGlyphs" font-family="'Liberation Sans', 'DejaVu Sans', sans-serif" font-size="11.9" font-weight="normal" font-style="italic" fill="#50535c" >Not To Scale</text>
<text x="571.48" y="972.20" textLength="289.41" lengthAdjust="spacingAndGlyphs" font-family="'Liberation Sans', 'DejaVu Sans', sans-serif" font-size="11.9" font-weight="normal" font-style="italic" fill="#50535c" >Designed for Use on 1¾&quot; Thick Doors Manufactured</text>
<text x="570.73" y="984.20" textLength="233.67" lengthAdjust="spacingAndGlyphs" font-family="'Liberation Sans', 'DejaVu Sans', sans-serif" font-size="11.9" font-weight="normal" font-style="italic" fill="#50535c" >Within Door Industry Tolerance of +/- ¹⁄₁₆&quot;.</text>
</g>
</g>
</svg>
</body>
</html>
